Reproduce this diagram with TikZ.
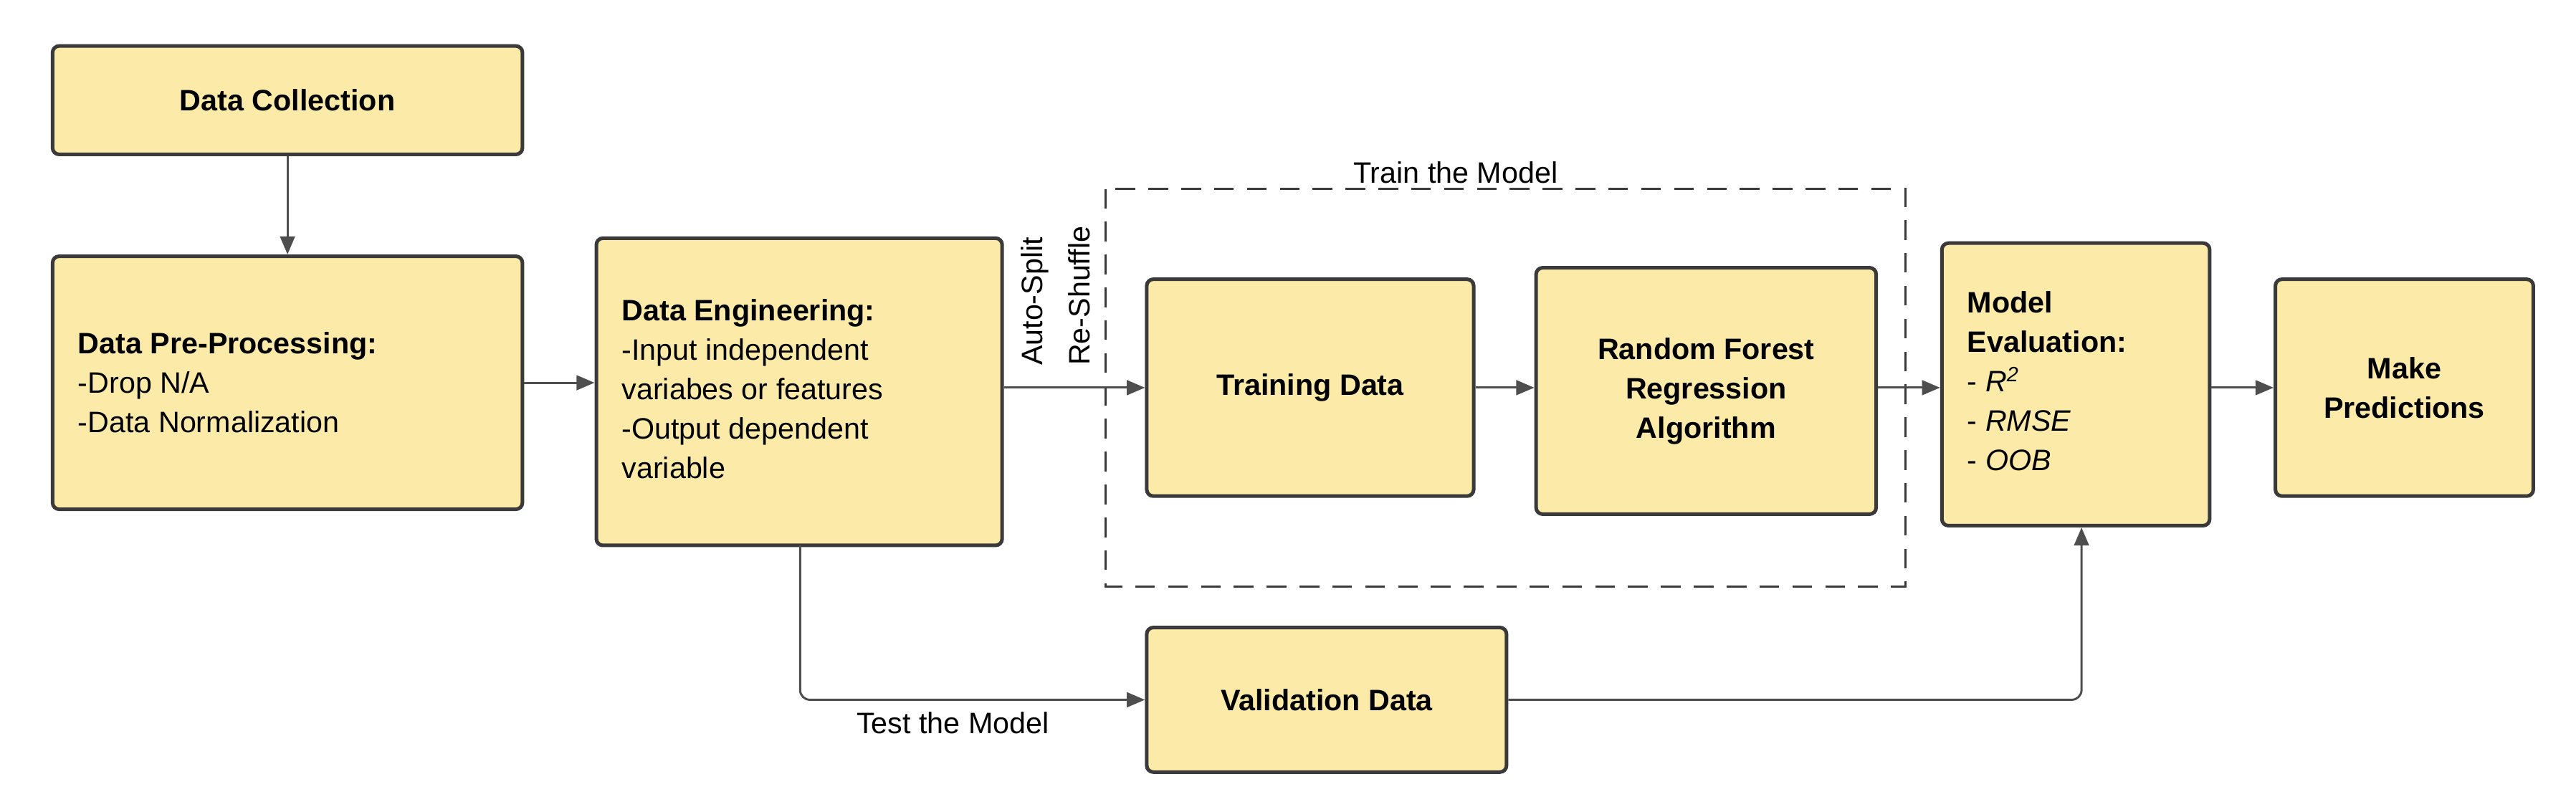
\documentclass[tikz,border=0pt]{standalone}
\usepackage{fontspec}
\setmainfont{Liberation Sans}
\usetikzlibrary{arrows.meta}
\definecolor{boxfill}{HTML}{FCEBA8}
\definecolor{edge}{HTML}{3A3A3A}
\begin{document}
\begin{tikzpicture}[x=1pt,y=-1pt,
  box/.style={draw=edge,fill=boxfill,line width=2.2pt,rounded corners=4pt,inner sep=0pt},
  arr/.style={draw=edge!90,line width=1.3pt,-{Triangle[length=11pt,width=9pt]}},
  lin/.style={draw=edge!90,line width=1.3pt},
  t/.style={font=\fontsize{18}{24}\selectfont,text=black}]
\useasboundingbox (0,0) rectangle (1568,494);
\node[box,minimum width=286pt,minimum height=66pt,t,font=\fontsize{18}{24}\selectfont\bfseries] (dc) at (175,61) {Data Collection};
\node[box,minimum width=286pt,minimum height=154pt] (pp) at (175,233) {};
\node[t,anchor=west,align=left] at (44,233) {\textbf{Data Pre-Processing:}\\-Drop N/A\\-Data Normalization};
\node[box,minimum width=247pt,minimum height=187pt] (de) at (486.5,238.5) {};
\node[t,anchor=west,align=left] at (375,237) {\textbf{Data Engineering:}\\-Input independent\\variabes or features\\-Output dependent\\variable};
\draw[edge,line width=1.3pt,dash pattern=on 12pt off 8pt] (673,115) rectangle (1160,357);
\node[t,anchor=south] (tm) at (886,115) {Train the Model};
\node[box,minimum width=199pt,minimum height=132pt,t,font=\fontsize{18}{24}\selectfont\bfseries] (td) at (797.5,236) {Training Data};
\node[box,minimum width=207pt,minimum height=150pt,t,font=\fontsize{18}{24}\selectfont\bfseries,align=center] (rf) at (1038.5,238) {Random Forest\\Regression\\Algorithm};
\node[box,minimum width=163pt,minimum height=172pt] (me) at (1263.5,234) {};
\node[t,anchor=west,align=left] at (1194,232) {\textbf{Model}\\\textbf{Evaluation:}\\- \textit{R}\textsuperscript{\textit{2}}\\- \textit{RMSE}\\- \textit{OOB}};
\node[box,minimum width=157pt,minimum height=132pt,t,font=\fontsize{18}{24}\selectfont\bfseries,align=center] (mp) at (1463.5,236) {Make\\Predictions};
\node[box,minimum width=219pt,minimum height=88pt,t,font=\fontsize{18}{24}\selectfont\bfseries] (vd) at (807.5,426) {Validation Data};
\node[t,rotate=90,anchor=west] (as) at (630,226) {Auto-Split};
\node[t,rotate=90,anchor=west] (rs) at (657,226) {Re-Shuffle};
\node[t,anchor=north] (tt) at (580,430) {Test the Model};
\draw[arr] (dc) -- (pp);
\draw[arr] (pp) -- (de.west |- pp);
\draw[arr] (de.east |- td) -- (td);
\draw[arr] (td) -- (rf.west |- td);
\draw[arr] (rf.east |- td) -- (me.west |- td);
\draw[arr] (me.east |- td) -- (mp);
\coordinate (c1) at (487,426);
\draw[arr,rounded corners=6pt] (487,332) -- (c1) -- (vd.west);
\coordinate (c2) at (1267,426);
\draw[arr,rounded corners=6pt] (vd.east) -- (c2) -- (me.south -| c2);
\end{tikzpicture}
\end{document}
